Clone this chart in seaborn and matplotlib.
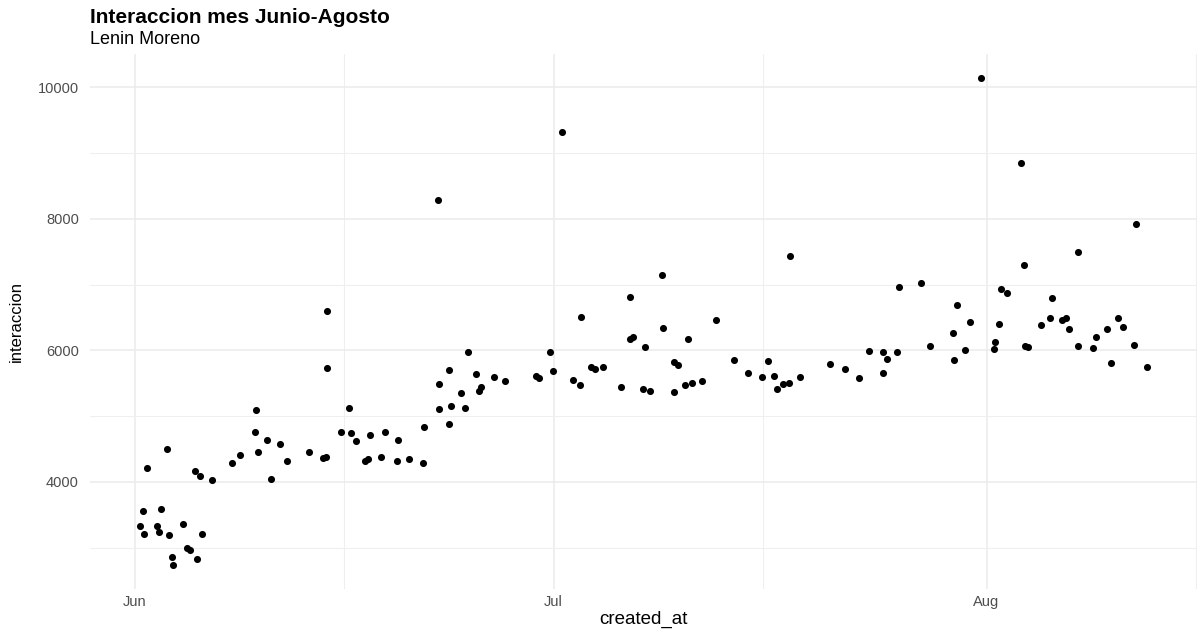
import pandas as pd
import seaborn as sns
import matplotlib.pyplot as plt
import matplotlib.dates as mdates
from matplotlib.ticker import MultipleLocator

# dias desde el 1 de junio y la interaccion de cada tweet
dias = [0.41, 0.59, 0.69, 0.88, 1.58, 1.77, 1.86, 2.34, 2.46, 2.65,
        2.74, 3.44, 3.72, 3.94, 4.30, 4.49, 4.70, 4.80, 5.58, 6.95,
        7.52, 8.59, 8.68, 8.81, 9.50, 9.76, 10.38, 10.95, 12.51, 13.51,
        13.70, 13.80, 13.80, 14.79, 15.36, 15.47, 15.82, 16.49, 16.74, 16.83,
        17.61, 17.90, 18.78, 18.88, 19.67, 20.64, 20.73, 21.72, 21.80, 21.80,
        22.48, 22.48, 22.67, 23.38, 23.68, 23.86, 24.45, 24.64, 24.84, 25.72,
        26.50, 28.71, 28.95, 29.71, 29.93, 30.59, 31.38, 31.88, 31.95, 32.65,
        32.96, 33.53, 34.80, 35.49, 35.49, 35.68, 36.37, 36.57, 36.87, 37.75,
        37.82, 38.61, 38.63, 38.91, 39.40, 39.60, 39.90, 40.60, 41.65, 42.94,
        43.91, 44.89, 45.37, 45.75, 45.97, 46.44, 46.83, 46.95, 47.63, 49.76,
        50.86, 51.84, 52.62, 53.58, 53.58, 53.86, 54.56, 54.76, 56.33, 56.92,
        58.57, 58.69, 58.88, 59.45, 59.83, 60.62, 61.50, 61.59, 61.91, 62.00,
        62.48, 63.46, 63.65, 63.77, 63.99, 64.92, 65.51, 65.70, 66.39, 66.71,
        66.87, 67.57, 67.57, 68.64, 68.86, 69.61, 69.93, 70.40, 70.79, 71.58,
        71.67, 72.46]

interaccion = [3330, 3560, 3200, 4210, 3330, 3240, 3590, 4500, 3190, 2850,
               2740, 3360, 2990, 2970, 4170, 2820, 4090, 3210, 4030, 4290,
               4410, 4760, 5100, 4450, 4630, 4050, 4570, 4320, 4460, 4370,
               4380, 6600, 5730, 4760, 5130, 4740, 4620, 4320, 4340, 4710,
               4380, 4760, 4310, 4630, 4340, 4290, 4840, 8290, 5490, 5110,
               5700, 4880, 5160, 5350, 5130, 5970, 5640, 5380, 5450, 5600,
               5530, 5610, 5580, 5970, 5690, 9320, 5550, 5480, 6510, 5750,
               5710, 5750, 5440, 6810, 6180, 6210, 5410, 6050, 5380, 7140,
               6340, 5830, 5360, 5780, 5480, 6180, 5500, 5530, 6460, 5860,
               5660, 5600, 5840, 5610, 5420, 5490, 5500, 7440, 5600, 5790,
               5720, 5580, 5990, 5970, 5660, 5870, 5980, 6970, 7020, 6060,
               6260, 5860, 6690, 6000, 6430, 10140, 6020, 6120, 6400, 6940,
               6870, 8850, 7300, 6060, 6050, 6380, 6500, 6790, 6460, 6490,
               6320, 7500, 6060, 6030, 6210, 6320, 5810, 6500, 6350, 6080,
               7930, 5750]

df = pd.DataFrame({
    "created_at": pd.Timestamp("2019-06-01") + pd.to_timedelta(dias, unit="D"),
    "interaccion": interaccion,
})

sns.set_theme(style="white")
plt.rcParams["font.family"] = ["Liberation Sans", "DejaVu Sans"]

fig = plt.figure(figsize=(12.01, 6.37), dpi=100)
ax = fig.add_axes([0.0749, 0.0754, 0.9217, 0.8399])

sns.scatterplot(data=df, x="created_at", y="interaccion", color="black",
                s=26, linewidth=0, ax=ax)

# ejes estilo theme_minimal
ax.xaxis.set_major_locator(mdates.MonthLocator())
ax.xaxis.set_major_formatter(mdates.DateFormatter("%b"))
ax.xaxis.set_minor_locator(mdates.MonthLocator(bymonthday=16))
ax.yaxis.set_major_locator(MultipleLocator(2000))
ax.yaxis.set_minor_locator(MultipleLocator(1000))

ax.grid(which="major", color="#EBEBEB", linewidth=1.1)
ax.grid(which="minor", color="#EFEFEF", linewidth=0.8)
ax.set_axisbelow(True)
for s in ax.spines.values():
    s.set_visible(False)
ax.tick_params(which="both", length=0)
ax.tick_params(axis="y", labelsize=10.5, labelcolor="#4D4D4D", pad=8)
ax.tick_params(axis="x", labelsize=10.5, labelcolor="#4D4D4D", pad=4)

ax.set_xlabel("created_at", fontsize=13.5, color="black")
ax.set_ylabel("interaccion", fontsize=12, color="black")
ax.xaxis.set_label_coords(0.5, -0.041)
ax.yaxis.set_label_coords(-0.06, 0.5)

fig.text(90 / 1201, 1 - 23 / 637, "Interaccion mes Junio-Agosto", color="black",
         fontsize=15, fontweight="bold", va="baseline", ha="left")
fig.text(90 / 1201, 1 - 44 / 637, "Lenin Moreno", color="black",
         fontsize=13, va="baseline", ha="left")

fig.savefig("out.png", dpi=100, facecolor="white")
